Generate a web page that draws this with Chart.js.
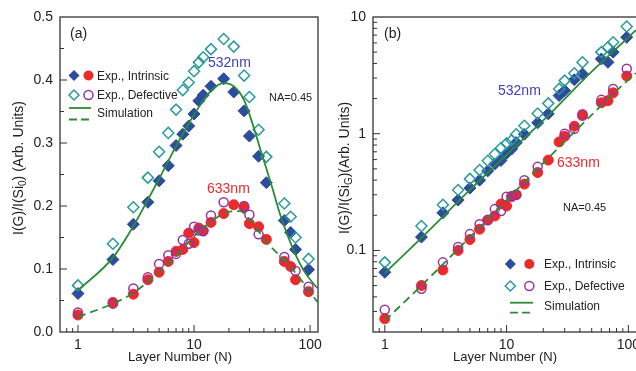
<!DOCTYPE html>
<html>
<head>
<meta charset="utf-8">
<script src="https://cdn.jsdelivr.net/npm/chart.js@4.4.1/dist/chart.umd.min.js"></script>
<style>
  html, body { margin: 0; padding: 0; background: #fff; overflow: hidden; width: 636px; height: 371px; }
  #chartA { position: absolute; left: 0; top: 0; }
  #chartB { position: absolute; left: 316px; top: 0; }
</style>
</head>
<body>
<canvas id="chartA" width="325" height="371"></canvas>
<canvas id="chartB" width="340" height="371"></canvas>
<script>
// layer numbers used for every measured series
const layers = [1, 2, 3, 4, 5, 6, 7, 8, 9, 10, 11, 12, 14, 18, 22, 27, 30, 36, 42, 60, 68, 75, 97];

// panel (a): I(G)/I(Si0)
const intr532A = [0.061, 0.115, 0.171, 0.206, 0.240, 0.264, 0.296, 0.314, 0.327, 0.346, 0.367, 0.376, 0.390, 0.402, 0.381, 0.351, 0.311, 0.279, 0.237, 0.177, 0.158, 0.131, 0.099];
const def532A  = [0.074, 0.140, 0.198, 0.245, 0.286, 0.316, 0.353, 0.384, 0.396, 0.414, 0.428, 0.436, 0.449, 0.465, 0.453, 0.407, 0.373, 0.321, 0.278, 0.204, 0.183, 0.150, 0.116];
const intr633A = [0.027, 0.047, 0.060, 0.083, 0.095, 0.112, 0.128, 0.131, 0.157, 0.142, 0.165, 0.161, 0.174, 0.188, 0.202, 0.198, 0.172, 0.167, 0.147, 0.112, 0.104, 0.083, 0.064];
const def633A  = [0.031, 0.045, 0.069, 0.087, 0.108, 0.122, 0.124, 0.146, 0.140, 0.167, 0.161, 0.160, 0.185, 0.206, null, 0.200, 0.186, 0.155, null, 0.119, null, 0.097, 0.072];

const simN532A = [1, 2, 3, 4, 5, 7, 10, 14, 18, 22, 27, 32, 38, 46, 56, 72, 90, 115];
const sim532A  = [0.066, 0.118, 0.168, 0.21, 0.243, 0.295, 0.345, 0.383, 0.395, 0.39, 0.368, 0.33, 0.285, 0.236, 0.183, 0.13, 0.095, 0.07];
const simN633A = [1, 2, 3, 5, 7, 10, 14, 20, 25, 29, 36, 43, 64, 90, 115];
const sim633A  = [0.024, 0.045, 0.062, 0.095, 0.12, 0.152, 0.175, 0.191, 0.192, 0.182, 0.16, 0.141, 0.109, 0.075, 0.048];

// panel (b): I(G)/I(SiG), log-log
const intr532B = [0.065, 0.13, 0.21, 0.27, 0.342, 0.40, 0.48, 0.55, 0.59, 0.68, 0.74, 0.84, 0.99, 1.24, 1.48, 2.12, 2.34, 2.9, 3.25, 4.37, 4.09, 5.0, 6.7];
const def532B  = [0.079, 0.162, 0.246, 0.329, 0.41, 0.488, 0.586, 0.67, 0.754, 0.826, 0.88, 0.99, 1.17, 1.49, 1.82, 2.42, 2.85, 3.3, 4.09, 5.0, 5.5, 6.08, 8.3];
const intr633B = [0.026, 0.05, 0.068, 0.10, 0.124, 0.152, 0.182, 0.197, 0.25, 0.24, 0.29, 0.30, 0.37, 0.465, 0.594, 0.85, 0.95, 1.16, 1.43, 1.84, 1.92, 2.24, 3.12];
const def633B  = [0.031, 0.047, 0.079, 0.107, 0.138, 0.168, 0.182, 0.226, 0.218, 0.288, 0.29, 0.30, 0.40, 0.52, null, null, 1.0, 1.1, 1.47, 1.95, null, 2.42, 3.6];

const simNB   = [1, 2, 5, 10, 20, 50, 100, 115];
const sim532B = [0.064, 0.128, 0.33, 0.66, 1.3, 3.4, 6.7, 7.7];
const sim633B = [0.025, 0.05, 0.13, 0.27, 0.56, 1.45, 2.9, 3.3];

const BLUE = '#2c4c9e', CYAN = '#2a9a9c', RED = '#ec2a2a', PURPLE = '#9433a4', GREEN = '#2a8c34';
const FONT = "'Liberation Sans', Arial, sans-serif";
Chart.defaults.font.family = FONT;

function pts(xs, ys) {
  const out = [];
  xs.forEach((x, i) => { if (ys[i] != null) out.push({ x: x, y: ys[i] }); });
  return out;
}

function isNiceLog(v) {
  const e = Math.floor(Math.log10(v) + 1e-9);
  const s = v / Math.pow(10, e);
  return Math.abs(s - Math.round(s)) < 1e-6;
}
function isDecade(v) {
  const l = Math.log10(v);
  return Math.abs(l - Math.round(l)) < 1e-6;
}

function diamond(ctx, x, y, r, fill, stroke) {
  ctx.beginPath();
  ctx.moveTo(x, y - r); ctx.lineTo(x + r, y); ctx.lineTo(x, y + r); ctx.lineTo(x - r, y); ctx.closePath();
  if (fill) { ctx.fillStyle = fill; ctx.fill(); }
  if (stroke) { ctx.strokeStyle = stroke; ctx.lineWidth = 1.5; ctx.stroke(); }
}
function circle(ctx, x, y, r, fill, stroke) {
  ctx.beginPath();
  ctx.arc(x, y, r, 0, Math.PI * 2);
  if (fill) { ctx.fillStyle = fill; ctx.fill(); }
  if (stroke) { ctx.strokeStyle = stroke; ctx.lineWidth = 1.5; ctx.stroke(); }
}

// frame, inward ticks, titles, legend and labels
function decor(spec) {
  return {
    id: 'decor',
    afterDraw(chart) {
      const ctx = chart.ctx, a = chart.chartArea;
      const xs = chart.scales.x, ys = chart.scales.y;
      ctx.save();
      ctx.strokeStyle = '#333';
      ctx.lineWidth = 1.3;
      ctx.strokeRect(a.left, a.top, a.right - a.left, a.bottom - a.top);

      ctx.lineWidth = 1;
      ctx.beginPath();
      xs.ticks.forEach(t => {
        if (!isNiceLog(t.value)) return;
        const p = xs.getPixelForValue(t.value);
        if (p <= a.left + 1 || p >= a.right - 1) return;
        const len = isDecade(t.value) ? 7 : 4;
        ctx.moveTo(p, a.bottom); ctx.lineTo(p, a.bottom - len);
      });
      ys.ticks.forEach(t => {
        if (spec.yLog && !isNiceLog(t.value)) return;
        const p = ys.getPixelForValue(t.value);
        if (p <= a.top + 1 || p >= a.bottom - 1) return;
        const major = spec.yLog ? isDecade(t.value) : Math.abs(t.value * 10 - Math.round(t.value * 10)) < 1e-6;
        ctx.moveTo(a.left, p); ctx.lineTo(a.left + (major ? 7 : 4), p);
      });
      ctx.stroke();

      ctx.textBaseline = 'middle';
      spec.texts.forEach(t => {
        ctx.font = t.size + 'px ' + FONT;
        ctx.fillStyle = t.color || '#222';
        ctx.textAlign = t.align || 'left';
        ctx.fillText(t.t, t.x, t.y);
      });

      // y title with subscript
      const yt = spec.yTitle;
      ctx.save();
      ctx.translate(yt.x, yt.y);
      ctx.rotate(-Math.PI / 2);
      ctx.fillStyle = '#222';
      ctx.textAlign = 'left';
      let total = 0;
      yt.parts.forEach(p => { ctx.font = (p[1] ? 10 : 14) + 'px ' + FONT; total += ctx.measureText(p[0]).width; });
      let cx = -total / 2;
      yt.parts.forEach(p => {
        ctx.font = (p[1] ? 10 : 14) + 'px ' + FONT;
        ctx.fillText(p[0], cx, p[1] ? 4 : 0);
        cx += ctx.measureText(p[0]).width;
      });
      ctx.restore();

      // legend
      const lg = spec.legend;
      diamond(ctx, lg.x1, lg.rows[0], 5.5, BLUE, null);
      circle(ctx, lg.x2, lg.rows[0], 5, RED, null);
      diamond(ctx, lg.x1, lg.rows[1], 5, null, CYAN);
      circle(ctx, lg.x2, lg.rows[1], 4.5, null, PURPLE);
      ctx.strokeStyle = GREEN;
      ctx.lineWidth = 1.8;
      ctx.beginPath();
      ctx.moveTo(lg.lx[0], lg.sim[0]); ctx.lineTo(lg.lx[1], lg.sim[0]);
      ctx.stroke();
      ctx.setLineDash([8, 4]);
      ctx.beginPath();
      ctx.moveTo(lg.lx[0], lg.sim[1]); ctx.lineTo(lg.lx[1], lg.sim[1]);
      ctx.stroke();
      ctx.setLineDash([]);
      ctx.font = '12px ' + FONT;
      ctx.fillStyle = '#222';
      ctx.textAlign = 'left';
      ctx.fillText('Exp., Intrinsic', lg.tx, lg.rows[0] + 1);
      ctx.fillText('Exp., Defective', lg.tx, lg.rows[1] + 1);
      ctx.fillText('Simulation', lg.tx, lg.simText);
      ctx.restore();
    }
  };
}

function makeChart(id, d, xRange, yScale, spec, padRight) {
  return new Chart(document.getElementById(id), {
    type: 'scatter',
    data: {
      datasets: [
        { data: pts(d.simN532, d.sim532), showLine: true, borderColor: GREEN, borderWidth: 1.8, pointRadius: 0, cubicInterpolationMode: 'monotone', order: 0 },
        { data: pts(d.simN633, d.sim633), showLine: true, borderColor: GREEN, borderWidth: 1.8, borderDash: [8, 5], pointRadius: 0, cubicInterpolationMode: 'monotone', order: 0 },
        { data: pts(layers, d.def532), pointStyle: 'rectRot', pointRadius: 5.5, backgroundColor: 'rgba(0,0,0,0)', borderColor: CYAN, borderWidth: 1.5, order: 1 },
        { data: pts(layers, d.def633), pointStyle: 'circle', pointRadius: 4.5, backgroundColor: 'rgba(0,0,0,0)', borderColor: PURPLE, borderWidth: 1.5, order: 1 },
        { data: pts(layers, d.intr532), pointStyle: 'rectRot', pointRadius: 6, backgroundColor: BLUE, borderColor: BLUE, borderWidth: 1, order: 2 },
        { data: pts(layers, d.intr633), pointStyle: 'circle', pointRadius: 5, backgroundColor: RED, borderColor: RED, borderWidth: 1, order: 2 }
      ]
    },
    options: {
      responsive: false,
      animation: false,
      events: [],
      layout: { padding: { left: 0, right: padRight, top: 17, bottom: 0 } },
      plugins: { legend: { display: false }, tooltip: { enabled: false } },
      scales: {
        x: {
          type: 'logarithmic',
          min: xRange[0], max: xRange[1],
          grid: { display: false, drawTicks: false },
          border: { display: false },
          afterFit: s => { s.height = 39; },
          ticks: {
            autoSkip: false, maxRotation: 0, padding: 5,
            color: '#222', font: { size: 14 },
            callback: v => ([1, 10, 100].includes(v) ? String(v) : '')
          }
        },
        y: yScale
      }
    },
    plugins: [decor(spec)]
  });
}

makeChart('chartA',
  { simN532: simN532A, sim532: sim532A, simN633: simN633A, sim633: sim633A,
    def532: def532A, def633: def633A, intr532: intr532A, intr633: intr633A },
  [0.72, 117],
  {
    type: 'linear', min: 0, max: 0.5,
    grid: { display: false, drawTicks: false },
    border: { display: false },
    afterFit: s => { s.width = 60; },
    ticks: {
      stepSize: 0.05, autoSkip: false, padding: 7, color: '#222', font: { size: 14 },
      callback: v => (Math.abs(v * 10 - Math.round(v * 10)) < 1e-6 ? v.toFixed(1) : '')
    }
  },
  {
    yLog: false,
    texts: [
      { t: '(a)', x: 70, y: 34, size: 14 },
      { t: '532nm', x: 208, y: 63, size: 14, color: '#4040b8' },
      { t: '633nm', x: 207, y: 189, size: 14, color: RED },
      { t: 'NA=0.45', x: 269, y: 98, size: 11 },
      { t: 'Layer Number (N)', x: 180, y: 357, size: 13, align: 'center' }
    ],
    yTitle: { x: 19, y: 168, parts: [['I(G)/I(Si', 0], ['0', 1], [') (Arb. Units)', 0]] },
    legend: { x1: 74, x2: 88.5, tx: 97, rows: [75.5, 95], lx: [69, 91], sim: [108, 119.5], simText: 114 }
  },
  4
);

makeChart('chartB',
  { simN532: simNB, sim532: sim532B, simN633: simNB, sim633: sim633B,
    def532: def532B, def633: def633B, intr532: intr532B, intr633: intr633B },
  [0.8, 120],
  {
    type: 'logarithmic', min: 0.02, max: 10,
    grid: { display: false, drawTicks: false },
    border: { display: false },
    afterFit: s => { s.width = 57; },
    ticks: {
      autoSkip: false, padding: 7, color: '#222', font: { size: 14 },
      callback: v => ([0.1, 1, 10].includes(v) ? String(v) : '')
    }
  },
  {
    yLog: true,
    texts: [
      { t: '(b)', x: 68, y: 34, size: 14 },
      { t: '532nm', x: 182, y: 91, size: 14, color: '#4040b8' },
      { t: '633nm', x: 241, y: 163, size: 14, color: RED },
      { t: 'NA=0.45', x: 247, y: 208, size: 11 },
      { t: 'Layer Number (N)', x: 189, y: 357, size: 13, align: 'center' }
    ],
    yTitle: { x: 29, y: 168, parts: [['I(G)/I(Si', 0], ['G', 1], [')(Arb. Units)', 0]] },
    legend: { x1: 194.3, x2: 213.3, tx: 228, rows: [264, 286], lx: [194, 217], sim: [302.7, 312.7], simText: 307 }
  },
  18
);
</script>
</body>
</html>
